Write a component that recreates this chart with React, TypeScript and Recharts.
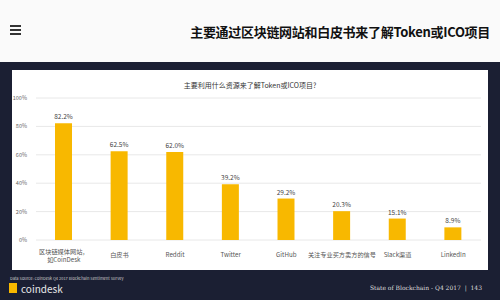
import { BarChart, Bar, XAxis, YAxis, CartesianGrid, LabelList } from "recharts";

const channels = [
  "区块链媒体网站，\n如CoinDesk",
  "白皮书",
  "Reddit",
  "Twitter",
  "GitHub",
  "关注专业买方卖方的信号",
  "Slack渠道",
  "LinkedIn",
];
const shares = [82.2, 62.5, 62.0, 39.2, 29.2, 20.3, 15.1, 8.9];
const yTicks = [0, 20, 40, 60, 80, 100];

const data = channels.map((name, i) => ({ name, share: shares[i] }));

const NAVY = "#1b1f33";
const GOLD = "#f8b800";
const FONT = "'Noto Sans CJK SC', 'Noto Sans', sans-serif";

function CategoryTick({ x, y, payload }: any) {
  const lines = String(payload.value).split("\n");
  const start = lines.length > 1 ? y + 6 : y + 9;
  return (
    <text x={x} y={start} textAnchor="middle" fontSize={6.2} fill="#555" fontFamily={FONT}>
      {lines.map((l, i) => (
        <tspan key={i} x={x} dy={i === 0 ? 0 : 7.5}>
          {l}
        </tspan>
      ))}
    </text>
  );
}

export default function App() {
  return (
    <div
      style={{
        position: "absolute",
        left: 0,
        top: 0,
        width: 500,
        height: 300,
        background: "#fafafa",
        overflow: "hidden",
        fontFamily: FONT,
      }}
    >
      {/* hamburger */}
      {[26, 30, 34].map((t) => (
        <div key={t} style={{ position: "absolute", left: 10, top: t - 1, width: 11, height: 2, background: "#333" }} />
      ))}
      <div
        style={{
          position: "absolute",
          right: 10,
          top: 22,
          fontSize: 13,
          fontWeight: 700,
          color: "#111",
          letterSpacing: -0.3,
          whiteSpace: "nowrap",
        }}
      >
        主要通过区块链网站和白皮书来了解Token或ICO项目
      </div>

      {/* dark band */}
      <div style={{ position: "absolute", left: 0, top: 62, width: 500, height: 238, background: NAVY }} />

      {/* card */}
      <div
        style={{
          position: "absolute",
          left: 12,
          top: 70,
          width: 476,
          height: 200,
          background: "#fff",
        }}
      >
        <div
          style={{
            position: "absolute",
            left: 0,
            top: 10,
            width: 476,
            textAlign: "center",
            fontSize: 7,
            color: "#333",
          }}
        >
          主要利用什么资源来了解Token或ICO项目?
        </div>
        <BarChart width={476} height={200} data={data} margin={{ top: 28, right: 7, left: 0, bottom: 0 }}>
          <CartesianGrid vertical={false} stroke="#e8e8e8" />
          <XAxis dataKey="name" tickLine={false} axisLine={false} height={30} interval={0} tick={<CategoryTick />} />
          <YAxis
            width={24}
            domain={[0, 100]}
            ticks={yTicks}
            tickLine={false}
            axisLine={false}
            tickMargin={3}
            tick={{ fontSize: 5.5, fill: "#666", fontFamily: FONT }}
            tickFormatter={(v: number) => `${v}%`}
          />
          <Bar dataKey="share" fill={GOLD} barSize={17} isAnimationActive={false}>
            <LabelList
              dataKey="share"
              position="top"
              offset={4}
              formatter={(v: any) => `${Number(v).toFixed(1)}%`}
              style={{ fontSize: 6.5, fill: "#444", fontFamily: FONT }}
            />
          </Bar>
        </BarChart>
      </div>

      {/* footer */}
      <div style={{ position: "absolute", left: 10, top: 275, fontSize: 4, color: "#ccc", whiteSpace: "nowrap" }}>
        Data Source: CoinDesk Q4 2017 Blockchain Sentiment Survey
      </div>
      <div style={{ position: "absolute", left: 9, top: 283, width: 8, height: 10, background: GOLD }} />
      <div style={{ position: "absolute", left: 21, top: 281, fontSize: 10, color: "#e8e8e8", whiteSpace: "nowrap" }}>
        coindesk
      </div>
      <div
        style={{
          position: "absolute",
          right: 18,
          top: 284,
          fontSize: 6,
          color: "#ddd",
          fontFamily: "'DejaVu Serif', serif",
          whiteSpace: "nowrap",
        }}
      >
        State of Blockchain - Q4 2017 &nbsp;|&nbsp; 143
      </div>
    </div>
  );
}
